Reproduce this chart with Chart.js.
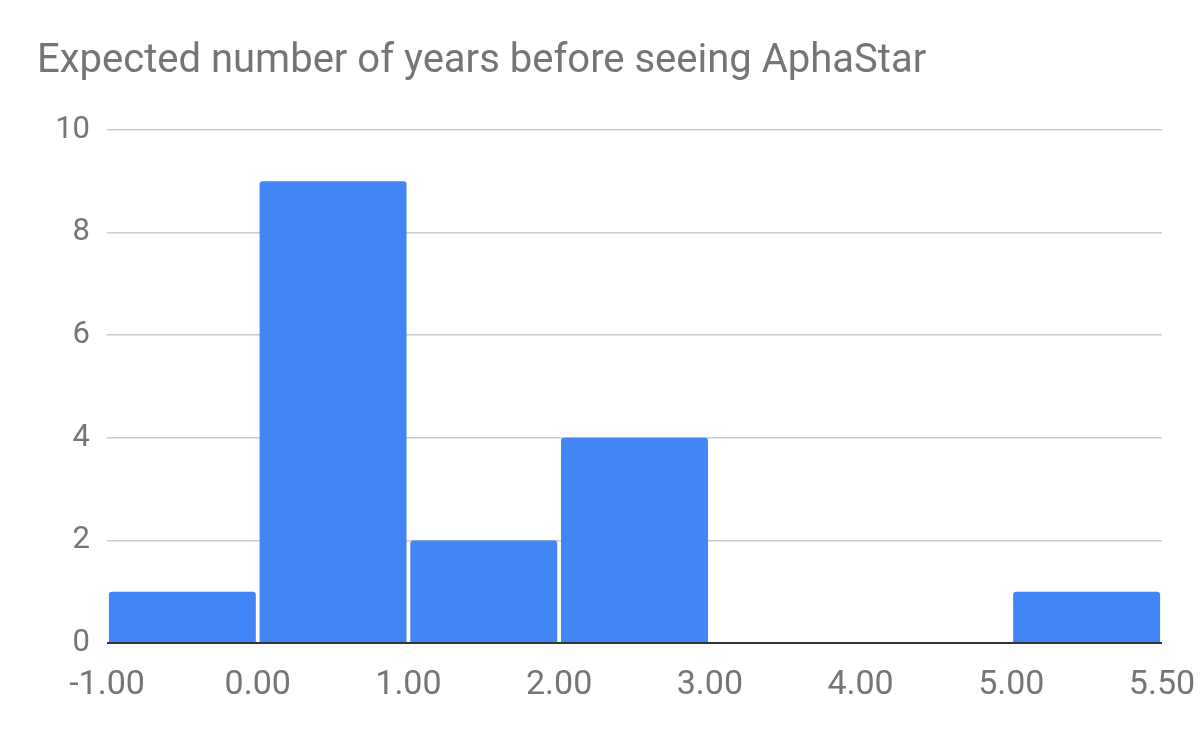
<!DOCTYPE html>
<html>
<head>
<meta charset="utf-8">
<script src="https://cdn.jsdelivr.net/npm/chart.js@4"></script>
<style>
  html, body { margin: 0; padding: 0; background: #ffffff; }
  #chart { display: block; }
</style>
</head>
<body>
<canvas id="chart" width="1200" height="742"></canvas>
<script>
// Histogram bins: boundaries drawn as equal-width slots
const binEdges = ['-1.00', '0.00', '1.00', '2.00', '3.00', '4.00', '5.00', '5.50'];
const binCenters = [0.5, 1.5, 2.5, 3.5, 4.5, 5.5, 6.5];
const counts = [1, 9, 2, 4, 0, 0, 1];
const yTicks = [0, 2, 4, 6, 8, 10];

const textGrey = '#757575';

const ctx = document.getElementById('chart');
new Chart(ctx, {
    type: 'bar',
    data: {
        datasets: [{
            label: 'Count',
            data: binCenters.map((x, i) => ({ x: x, y: counts[i] })),
            backgroundColor: '#4285F4',
            barPercentage: 0.975,
            categoryPercentage: 1,
            borderRadius: { topLeft: 3, topRight: 3, bottomLeft: 0, bottomRight: 0 },
            borderSkipped: 'start'
        }]
    },
    options: {
        responsive: false,
        animation: false,
        layout: { padding: { left: 37, right: 38, top: 0, bottom: 0 } },
        plugins: {
            legend: { display: false },
            tooltip: { enabled: false },
            title: {
                display: true,
                text: 'Expected number of years before seeing AphaStar',
                align: 'start',
                color: textGrey,
                font: { family: 'Roboto', size: 40, weight: 'normal' },
                padding: { top: 38, bottom: 44 }
            }
        },
        scales: {
            x: {
                type: 'linear',
                offset: false,
                min: 0,
                max: binEdges.length - 1,
                afterFit: function(scale) {
                    scale.height = 99;
                    scale.paddingLeft = 0;
                    scale.paddingRight = 0;
                },
                afterBuildTicks: function(scale) {
                    scale.ticks = binEdges.map((_, i) => ({ value: i }));
                },
                ticks: {
                    color: textGrey,
                    font: { family: 'Roboto', size: 34 },
                    padding: 22,
                    maxRotation: 0,
                    autoSkip: false,
                    callback: function(value) { return binEdges[value]; }
                },
                grid: { display: false, drawTicks: false, offset: false },
                border: { display: false }
            },
            y: {
                min: 0,
                max: 10,
                afterFit: function(scale) { scale.width = 70; },
                afterBuildTicks: function(scale) {
                    scale.ticks = yTicks.map(v => ({ value: v }));
                },
                ticks: {
                    color: textGrey,
                    font: { family: 'Roboto', size: 31 },
                    padding: 17
                },
                grid: {
                    drawTicks: false,
                    color: c => c.tick && c.tick.value === 0 ? '#333333' : '#cccccc',
                    lineWidth: c => c.tick && c.tick.value === 0 ? 2 : 1.5
                },
                border: { display: false }
            }
        }
    }
});
</script>
</body>
</html>
